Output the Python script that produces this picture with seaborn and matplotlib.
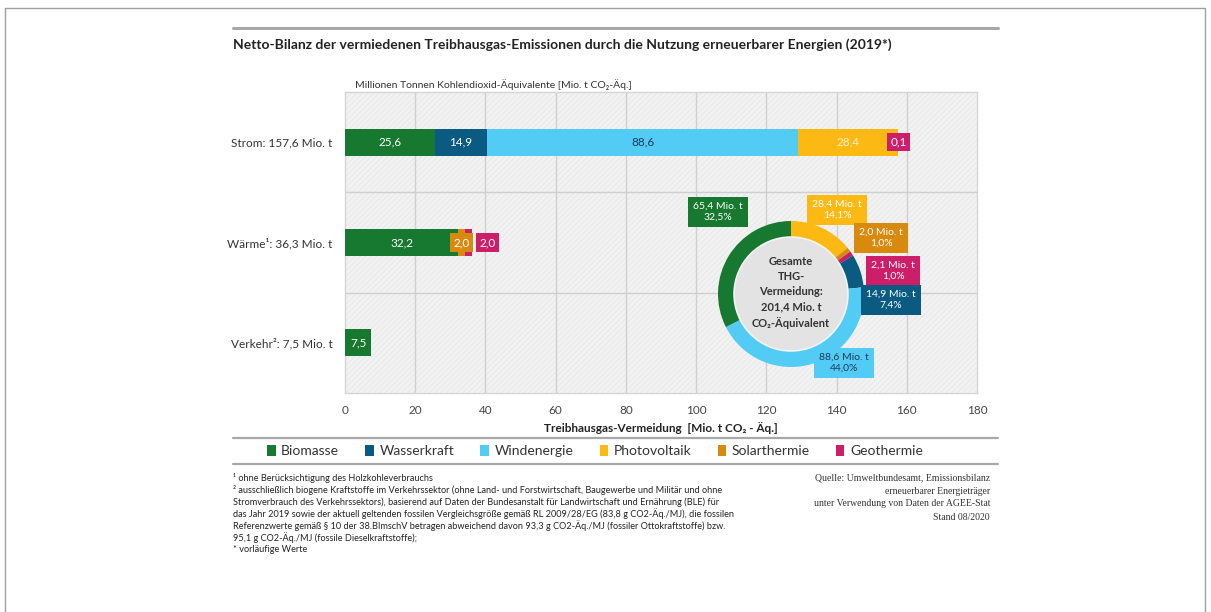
import numpy as np
import pandas as pd
import matplotlib
matplotlib.use("Agg")
import matplotlib.pyplot as plt
import seaborn as sns
from matplotlib.patches import Patch, Rectangle, Circle
from matplotlib.lines import Line2D

# --- data -------------------------------------------------------------
sectors = ["Strom: 157,6 Mio. t", "Wärme¹: 36,3 Mio. t", "Verkehr²: 7,5 Mio. t"]
sources = ["Biomasse", "Wasserkraft", "Windenergie", "Photovoltaik", "Solarthermie", "Geothermie"]
colors = ["#17782f", "#0b5a82", "#52cbf5", "#fcb813", "#d88a0e", "#cd1f69"]

biomasse = [25.6, 32.2, 7.5]
wasserkraft = [14.9, 0.0, 0.0]
windenergie = [88.6, 0.0, 0.0]
photovoltaik = [28.4, 0.0, 0.0]
solarthermie = [0.0, 2.0, 0.0]
geothermie = [0.1, 2.0, 0.0]

# donut, clockwise from 12 o'clock
donut_order = ["Photovoltaik", "Solarthermie", "Geothermie", "Wasserkraft", "Windenergie", "Biomasse"]
donut_values = [28.4, 2.0, 2.1, 14.9, 88.6, 65.4]
donut_labels = ["28,4 Mio. t\n14,1%", "2,0 Mio. t\n1,0%", "2,1 Mio. t\n1,0%",
                "14,9 Mio. t\n7,4%", "88,6 Mio. t\n44,0%", "65,4 Mio. t\n32,5%"]
x_ticks = [0, 20, 40, 60, 80, 100, 120, 140, 160, 180]

title = "Netto-Bilanz der vermiedenen Treibhausgas-Emissionen durch die Nutzung erneuerbarer Energien (2019*)"
footnotes = [
    "¹ ohne Berücksichtigung des Holzkohleverbrauchs",
    "² ausschließlich biogene Kraftstoffe im Verkehrssektor (ohne Land- und Forstwirtschaft, Baugewerbe und Militär und ohne",
    "Stromverbrauch des Verkehrssektors), basierend auf Daten der Bundesanstalt für Landwirtschaft und Ernährung (BLE) für",
    "das Jahr 2019 sowie der aktuell geltenden fossilen Vergleichsgröße gemäß RL 2009/28/EG (83,8 g CO2-Äq./MJ), die fossilen",
    "Referenzwerte gemäß § 10 der 38.BImschV betragen abweichend davon 93,3 g CO2-Äq./MJ (fossiler Ottokraftstoffe) bzw.",
    "95,1 g CO2-Äq./MJ (fossile Dieselkraftstoffe);",
    "* vorläufige Werte",
]
source_lines = ["Quelle: Umweltbundesamt, Emissionsbilanz", "erneuerbarer Energieträger",
                "unter Verwendung von Daten der AGEE-Stat", "Stand 08/2020"]

# --- styling ----------------------------------------------------------
sns.set_theme(style="white")
FONT = ["Lato", "DejaVu Sans"]
plt.rcParams["font.family"] = FONT
plt.rcParams["hatch.linewidth"] = 0.4
W, H = 1211, 612
TXT = "#333333"


def fp(x, y):
    """pixel position -> figure fraction"""
    return x / W, 1 - y / H


fig = plt.figure(figsize=(W / 100, H / 100), dpi=100)
fig.patch.set_facecolor("white")

# frame + rules
for xs, ys in [([5, 5], [8, 620]), ([5, 1205], [8, 8]), ([1205, 1205], [8, 620])]:
    fig.add_artist(Line2D(np.array(xs) / W, 1 - np.array(ys) / H, color="#a0a0a0", lw=1,
                          transform=fig.transFigure))
for y, lw in [(28, 2.2), (438, 1.6), (464, 1.6)]:
    fig.add_artist(Line2D([233 / W, 998 / W], [1 - y / H] * 2, color="#a8a8a8", lw=lw,
                          transform=fig.transFigure))

fig.text(*fp(233, 45), title, fontsize=10, fontweight="bold", color="#222222", va="center")
fig.text(*fp(355, 85), "Millionen Tonnen Kohlendioxid-Äquivalente [Mio. t CO₂-Äq.]",
         fontsize=7.5, color=TXT, va="center")

# --- stacked bars -----------------------------------------------------
ax = fig.add_axes([345 / W, 1 - 393 / H, (977 - 345) / W, (393 - 92) / H])
ax.add_patch(Rectangle((0, 0), 1, 1, transform=ax.transAxes, facecolor="#f2f2f2",
                       edgecolor="#e2e2e2", hatch="//////", lw=0, zorder=0))

df = pd.DataFrame({"Sektor": sectors, "Biomasse": biomasse, "Wasserkraft": wasserkraft,
                   "Windenergie": windenergie, "Photovoltaik": photovoltaik,
                   "Solarthermie": solarthermie, "Geothermie": geothermie})
cum = df[sources].cumsum(axis=1)
starts = cum - df[sources]

# stack by overdrawing cumulative totals, widest first
for src, col in reversed(list(zip(sources, colors))):
    sns.barplot(x=cum[src], y=df["Sektor"], color=col, saturation=1, width=0.27,
                orient="h", errorbar=None, ax=ax, zorder=3, linewidth=0)

ax.set_xlim(0, 180)
ax.set_ylim(2.5, -0.5)
ax.set_xticks(x_ticks)
ax.set_xticklabels([str(t) for t in x_ticks], fontsize=8.5, color="#444444")
ax.tick_params(axis="x", length=0, pad=9)
ax.tick_params(axis="y", length=0, pad=9, labelsize=8.5, labelcolor=TXT)
for t in ax.get_yticklabels():
    t.set_fontfamily(FONT)
ax.set_ylabel("")
ax.set_xlabel("Treibhausgas-Vermeidung  [Mio. t CO₂ - Äq.]", fontsize=8.5, fontweight="bold",
              color="#222222", labelpad=4)
for x in x_ticks[1:-1]:
    ax.axvline(x, color="#cfcfcf", lw=1, zorder=1)
for y in [0.5, 1.5]:
    ax.axhline(y, color="#cfcfcf", lw=1, zorder=1)
for s in ax.spines.values():
    s.set_color("#d6d6d6")
    s.set_linewidth(1)

# segment labels
label_col = {"Windenergie": "#1d3b5c", "Photovoltaik": "#fff4cf"}
for i in range(len(sectors)):
    for src, col in zip(sources, colors):
        v = df.loc[i, src]
        if v <= 0:
            continue
        mid = starts.loc[i, src] + v / 2
        lbl = f"{v:.1f}".replace(".", ",")
        if v >= 5:
            ax.text(mid, i, lbl, ha="center", va="center", fontsize=8.5,
                    color=label_col.get(src, "white"), zorder=5)
        elif src == "Solarthermie":
            ax.text(mid, i, lbl, ha="center", va="center", fontsize=8.5, color="white", zorder=5,
                    bbox=dict(boxstyle="square,pad=0.3", fc=col, ec="none"))
        elif v < 0.5:
            ax.text(cum.loc[i, src], i, lbl, ha="center", va="center", fontsize=8.5,
                    color="white", zorder=5, bbox=dict(boxstyle="square,pad=0.3", fc=col, ec="none"))
        else:
            ax.annotate(lbl, (cum.loc[i, src], i), xytext=(11, 0), textcoords="offset points",
                        ha="center", va="center", fontsize=8.5, color="white", zorder=5,
                        bbox=dict(boxstyle="square,pad=0.3", fc=col, ec="none"))

# --- donut ------------------------------------------------------------
cx, cy, r = 791, 294, 73
ax2 = fig.add_axes([(cx - r) / W, 1 - (cy + r) / H, 2 * r / W, 2 * r / H])
src_color = dict(zip(sources, colors))
ax2.pie(donut_values, colors=[src_color[s] for s in donut_order], startangle=90,
        counterclock=False, wedgeprops=dict(width=0.22, linewidth=0))
ax2.add_patch(Circle((0, 0), 0.78, facecolor="#e3e3e3", edgecolor="#f4f4f4", lw=1.2))
ax2.set_xlim(-1, 1)
ax2.set_ylim(-1, 1)
ax2.set_aspect("equal")
ax2.axis("off")
ax2.text(0, 0.02, "Gesamte\nTHG-\nVermeidung:\n201,4 Mio. t\nCO₂-Äquivalent", ha="center",
         va="center", fontsize=8, fontweight="bold", color="#333333", linespacing=1.45)

label_pos = {"Photovoltaik": (837, 210), "Solarthermie": (881, 238), "Geothermie": (893, 271),
             "Wasserkraft": (891, 300), "Windenergie": (844, 363), "Biomasse": (718, 212)}
for src, lbl in zip(donut_order, donut_labels):
    tc = "#1d3b5c" if src == "Windenergie" else "white"
    fig.text(*fp(*label_pos[src]), lbl, ha="center", va="center", fontsize=7.5, color=tc,
             linespacing=1.3, bbox=dict(boxstyle="square,pad=0.45", fc=src_color[src], ec="none"))

# --- legend -----------------------------------------------------------
handles = [Patch(facecolor=c, edgecolor="none", label=s) for s, c in zip(sources, colors)]
fig.legend(handles=handles, loc="center", bbox_to_anchor=fp(595, 451), ncol=6, frameon=False,
           fontsize=10, handlelength=0.6, handleheight=0.8, handletextpad=0.4,
           columnspacing=1.9, labelcolor="#333333")

# --- footnotes / source ----------------------------------------------
for k, line in enumerate(footnotes):
    fig.text(*fp(233, 478 + k * 12), line, fontsize=6.6, color="#222222", va="center")
for k, line in enumerate(source_lines):
    fig.text(*fp(990, 478 + k * 13), line, fontsize=7, color="#333333", va="center", ha="right",
             family=["Liberation Serif", "DejaVu Serif"])

fig.savefig("out.png", dpi=100)
